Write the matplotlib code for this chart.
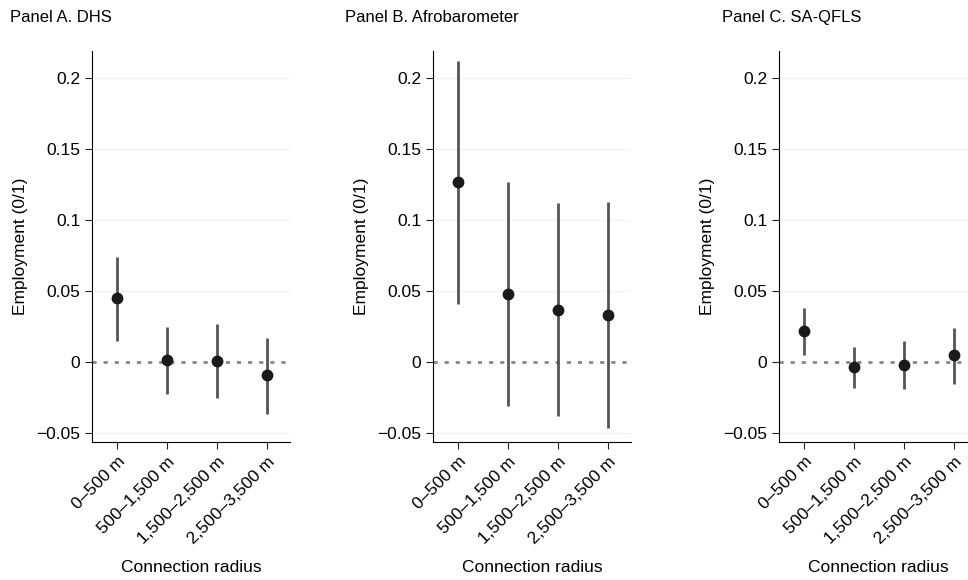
import matplotlib
matplotlib.use("Agg")
import matplotlib.pyplot as plt

plt.rcParams["font.family"] = ["Liberation Sans", "DejaVu Sans"]

radius_labels = ["0–500 m", "500–1,500 m", "1,500–2,500 m", "2,500–3,500 m"]
panel_titles = ["Panel A. DHS", "Panel B. Afrobarometer", "Panel C. SA-QFLS"]

dhs_est = [0.045, 0.002, 0.001, -0.009]
dhs_lo = [0.015, -0.022, -0.025, -0.036]
dhs_hi = [0.074, 0.025, 0.027, 0.017]

afro_est = [0.127, 0.048, 0.037, 0.033]
afro_lo = [0.041, -0.031, -0.038, -0.046]
afro_hi = [0.212, 0.127, 0.112, 0.113]

qfls_est = [0.022, -0.003, -0.002, 0.005]
qfls_lo = [0.005, -0.018, -0.019, -0.015]
qfls_hi = [0.038, 0.011, 0.015, 0.024]

panels = [(dhs_est, dhs_lo, dhs_hi), (afro_est, afro_lo, afro_hi),
          (qfls_est, qfls_lo, qfls_hi)]
lefts = [92, 433, 779]
title_x = [10, 345, 722]

fig = plt.figure(figsize=(9.68, 5.8), dpi=100)
for left, tx, title, (est, lo, hi) in zip(lefts, title_x, panel_titles, panels):
    ax = fig.add_axes([left / 968, 138 / 580, 198 / 968, 391 / 580])
    x = range(len(est))
    for v in [-0.05, 0.05, 0.1, 0.15, 0.2]:
        ax.axhline(v, color="#f2f2f2", lw=1, zorder=0)
    ax.axhline(0, color="#888888", ls=(0, (1.5, 2.5)), lw=2, zorder=1)
    ax.vlines(x, lo, hi, color="#555555", lw=2, zorder=2)
    ax.plot(x, est, "o", color="#1a1a1a", ms=7.5, zorder=3)
    ax.set_xlim(-0.5, 3.47)
    ax.set_ylim(-0.056, 0.219)
    ax.set_yticks([-0.05, 0, 0.05, 0.1, 0.15, 0.2])
    ax.set_yticklabels(["−0.05", "0", "0.05", "0.1", "0.15", "0.2"])
    ax.set_xticks(list(x))
    ax.set_xticklabels(radius_labels, rotation=45, ha="right",
                       rotation_mode="anchor")
    ax.tick_params(labelsize=12.5, length=5, color="#222222")
    for s in ["top", "right"]:
        ax.spines[s].set_visible(False)
    ax.set_ylabel("Employment (0/1)", fontsize=12.5, labelpad=6)
    ax.set_xlabel("Connection radius", fontsize=12.5, labelpad=10)
    fig.text(tx / 968, 1 - 22 / 580, title, fontsize=12, va="baseline",
             ha="left")

fig.savefig("out.png", dpi=100)
